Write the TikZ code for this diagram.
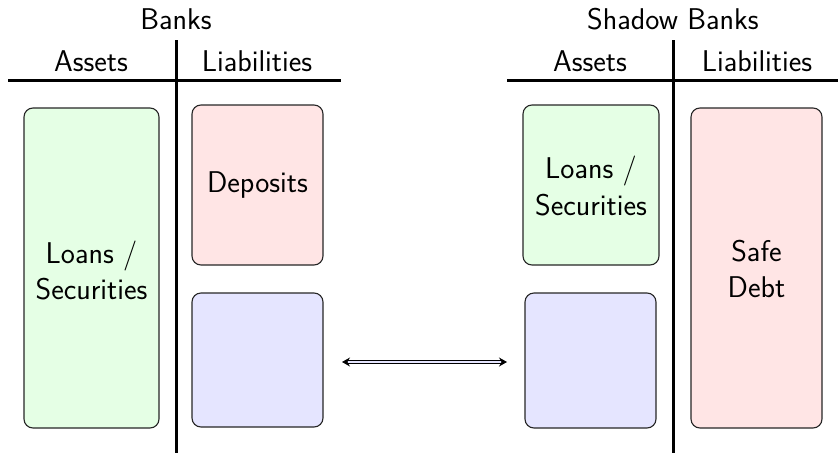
\documentclass[tikz,border=0pt]{standalone}
\usetikzlibrary{arrows.meta}
\begin{document}
\begin{tikzpicture}[x=1pt,y=-1pt,
  font=\sffamily\fontsize{30}{36}\selectfont,
  balance/.style={line width=3pt},
  item/.style={draw=black!85, line width=1.1pt, rounded corners=9pt, align=center},
  asset/.style={item, fill=green!10},
  liab/.style={item, fill=red!10},
  equity/.style={item, fill=blue!10},
  swap/.style={double=blue!10, double distance=2.5pt, line width=1pt,
    {Stealth[length=8pt,width=9pt]}-{Stealth[length=8pt,width=9pt]}}]
\useasboundingbox (0,0) rectangle (838,453);

% Banks balance sheet
\node (bt) at (176,19) {Banks};
\node (ba) at (91,61) {Assets};
\node (bl) at (257,61) {Liabilities};
\coordinate (bvt) at (176,40);
\coordinate (bvb) at (176,453);
\coordinate (bhl) at (8,80);
\coordinate (bhr) at (341,80);
\draw[balance] (bvt) -- (bvb);
\draw[balance] (bhl) -- (bhr);

\draw[asset] (24,108) rectangle (159,428);
\node[align=center] (bloans) at (91.5,270) {Loans /\\Securities};
\draw[liab] (192,105) rectangle (323,265);
\node (bdep) at (257.5,185) {Deposits};
\draw[equity] (192,293) rectangle (323,427);

% Shadow banks balance sheet
\node (st) at (673,19) {Shadow Banks};
\node (sa) at (590,61) {Assets};
\node (sl) at (757,61) {Liabilities};
\coordinate (svt) at (673,40);
\coordinate (svb) at (673,453);
\coordinate (shl) at (507,80);
\coordinate (shr) at (838,80);
\draw[balance] (svt) -- (svb);
\draw[balance] (shl) -- (shr);

\draw[asset] (523,105) rectangle (659,265);
\node[align=center] (sloans) at (591,186) {Loans /\\Securities};
\draw[equity] (525,293) rectangle (656,428);
\draw[liab] (691,108) rectangle (822,428);
\node[align=center] (sdebt) at (756.5,269) {Safe\\Debt};

% Link between the two equity blocks
\coordinate (al) at (342,362);
\coordinate (ar) at (507,362);
\draw[swap] (al) -- (ar);
\end{tikzpicture}
\end{document}
